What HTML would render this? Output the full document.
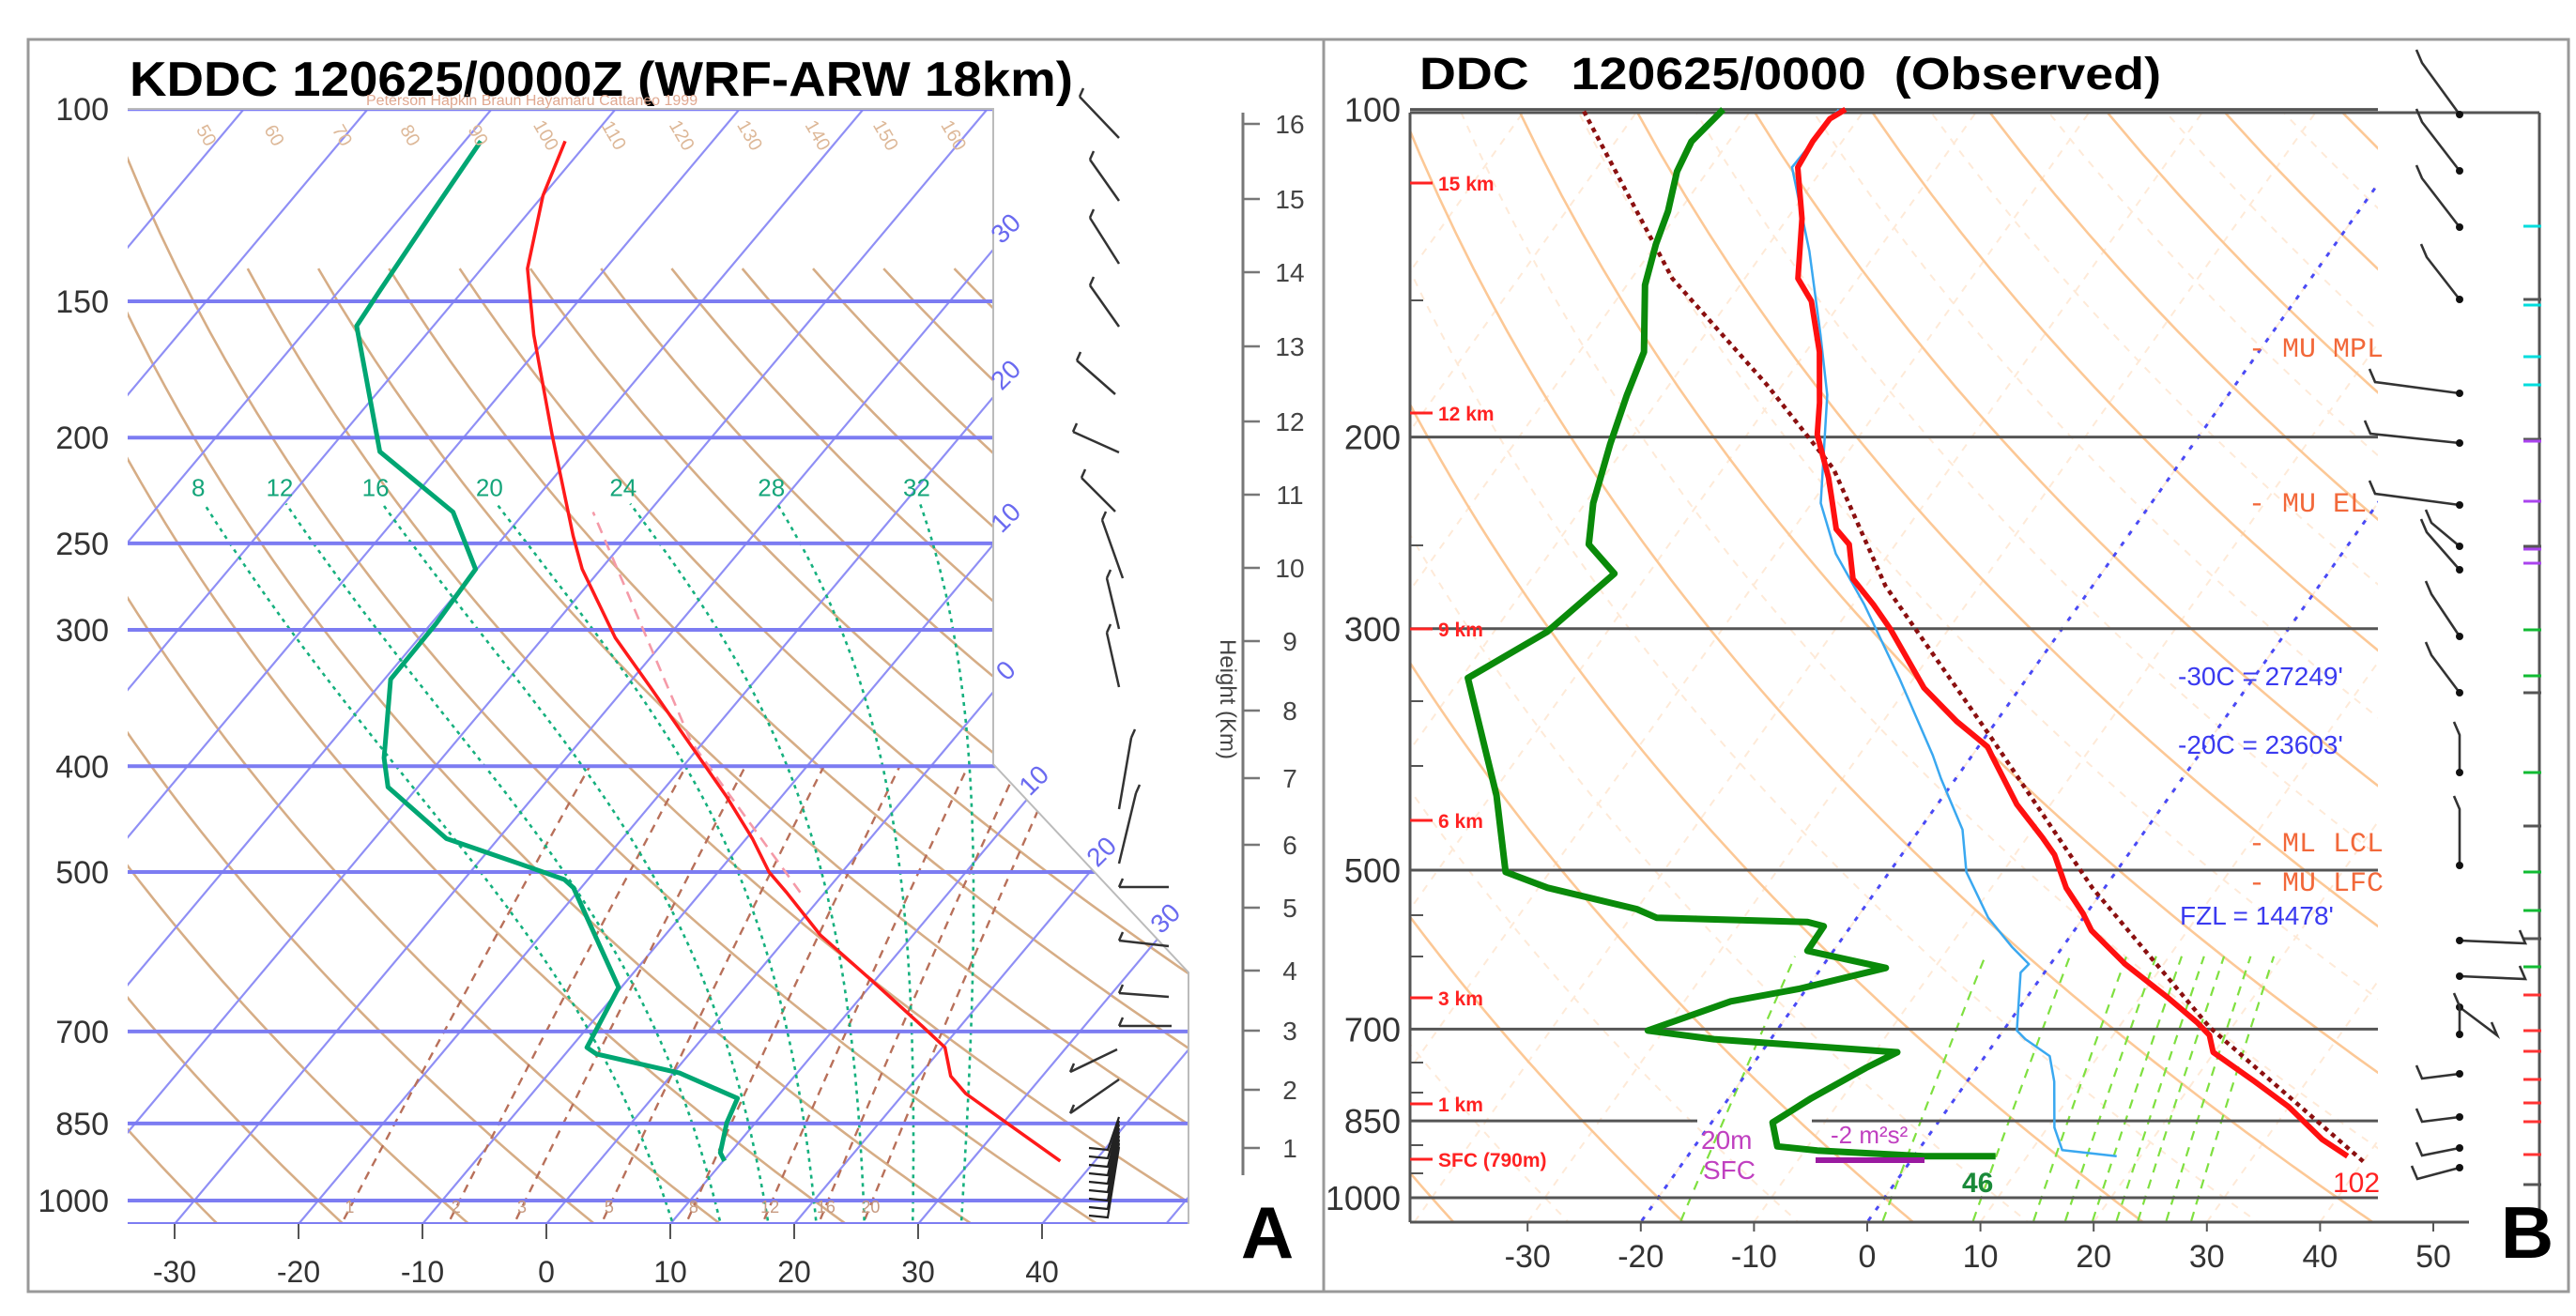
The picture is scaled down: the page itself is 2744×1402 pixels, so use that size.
<!DOCTYPE html>
<html><head><meta charset="utf-8"><title>Skew-T comparison</title>
<style>
html,body{margin:0;padding:0;background:#fff;}
svg{display:block;font-family:"Liberation Sans",sans-serif;}
.pre{white-space:pre;}
</style></head>
<body>
<svg id="chart" xmlns="http://www.w3.org/2000/svg" width="2744" height="1402" viewBox="0 0 2744 1402">
<defs>
<clipPath id="clipA"><polygon points="136,116 1058,116 1058,814 1266,1036 1266,1304 136,1304"/></clipPath>
<clipPath id="clipB"><rect x="1502" y="120" width="1031" height="1182"/></clipPath>
</defs>
<rect x="0" y="0" width="2744" height="1402" fill="#fff"/>
<rect x="30" y="42" width="2706" height="1334" fill="none" stroke="#999" stroke-width="3"/>
<line x1="1410" y1="42" x2="1410" y2="1376" stroke="#999" stroke-width="3"/>
<g id="panelA"></g>
<g id="panelB"></g>
</svg>
<script>
// ---------- DATA: panel A (WRF-ARW model sounding) ----------
const pA_temp = [920,849,798,769,724,693,629,571,522,500,466,426,384,338,305,264,246,199,161,140,120,107];
const tA_temp = [37.2,30.3,25.0,22.6,20.2,17.0,9.8,2.5,-3.1,-5.9,-9.5,-14.5,-20.6,-28.1,-34.2,-41.5,-44.5,-53,-61.3,-66.3,-70,-71.9];
const pA_dew = [920,904,849,806,764,734,724,638,517,508,491,466,418,393,333,296,264,234,206,158,147,124,107];
const tA_dew = [10.1,9.2,7.7,6.9,0.5,-7.5,-8.7,-10.2,-20.6,-21.9,-26.7,-34.2,-42.4,-44.7,-49.5,-49.6,-50.1,-55.8,-65.8,-76.2,-76.7,-77.8,-78.7];
const pA_parcel = [522,380,234];
const tA_parcel = [-2,-21,-44.5];
const pA_labels = [100,150,200,250,300,400,500,700,850,1000];
const tA_ticks = [-30,-20,-10,0,10,20,30,40];
const heightA_km = [1,2,3,4,5,6,7,8,9,10,11,12,13,14,15,16];
const heightA_y = [1223,1161,1098,1034,967,900,829,757,683,605,527,449,369,290,212,132];
const moistA = [8,12,16,20,24,28,32];
const mixA = [1,2,3,5,8,12,16,20];
// ---------- DATA: panel B (observed sounding) ----------
const pB_temp = [916,884,825,782,735,709,690,655,610,568,548,519,484,467,435,392,385,365,340,300,285,270,251,243,226,218,199,186,167,150,143,126,113,107,102,100];
const tB_temp = [38.3,35.0,30.0,25.4,19.9,18.5,16.6,12.5,6.6,1.5,-0.3,-3.4,-6.5,-8.6,-13,-18.3,-19.2,-23.5,-28.5,-35.2,-38.2,-41.6,-44.1,-46.2,-48.8,-50.1,-53.8,-55.6,-58.8,-62.7,-65.3,-68.7,-72.3,-72.6,-72.5,-71.7];
const pB_wet = [916,904,862,782,741,715,702,621,610,588,553,502,459,412,392,333,285,256,230,183,161,135,113,100];
const tB_wet = [17.9,12.7,10.6,7.7,5.7,2.5,1.2,-2.1,-1.9,-4.5,-8.4,-13.2,-16.2,-21.3,-23.5,-31.3,-39,-44.7,-49.2,-55.4,-59.8,-66,-72.8,-72.3];
const pB_dew = [916,916,905,897,853,810,760,735,715,702,660,643,615,593,563,558,553,543,519,502,427,333,302,267,251,230,203,183,167,145,133,124,114,107,100];
const tB_dew = [7.2,0.9,-8.9,-12.7,-14.6,-12.7,-9.8,-8.0,-25,-31.4,-25.9,-20.7,-14.3,-22.3,-22.4,-24.1,-37.7,-40,-49.2,-53.9,-59.5,-69.4,-65.3,-63,-67.1,-69.3,-71.5,-73.1,-74.3,-78.4,-80,-81,-82.7,-83.3,-82.5];
const pB_parcel = [926,697,519,378,274,214,179,143,100];
const tB_parcel = [40,18,-1.1,-19.4,-38.3,-50.2,-61.4,-76.4,-94.9];
const pB_labels = [100,200,300,500,700,850,1000];
const tB_ticks = [-30,-20,-10,0,10,20,30,40,50];
const mixB = [1,4,7,10,12,14,16,18,21,24];
const kmB_labels = ["15 km","12 km","9 km","6 km","3 km","1 km","SFC (790m)"];
const kmB_y = [195,440,670,874,1063,1176,1235];

// ---------- axis functions ----------
function yA(p){return 1279-505*Math.log(1000/p);}
function xA(t,p){return 582+13.2*t+0.84*(1304-yA(p));}
function yB(p){return 1276-503.5*Math.log(1000/p);}
function xB(t,p){return 1989+12.06*t+0.71*(1302-yB(p));}

const NS="http://www.w3.org/2000/svg";
function mk(tag,attrs,parent){const e=document.createElementNS(NS,tag);for(const k in attrs)e.setAttribute(k,attrs[k]);parent.appendChild(e);return e;}
function txt(s,attrs,parent){const e=mk('text',attrs,parent);e.textContent=s;return e;}
function pathFrom(ps,ts,xf,yf){let d='';for(let i=0;i<ps.length;i++){d+=(i?'L':'M')+xf(ts[i],ps[i]).toFixed(1)+','+yf(ps[i]).toFixed(1);}return d;}
function dryT(thetaC,p){return (thetaC+273.15)*Math.pow(p/1000,0.2857)-273.15;}
function es(tc){return 6.112*Math.exp(17.67*tc/(tc+243.5));}
function moistCurve(t0,pStart,pEnd){
  const pts=[];let T=t0+273.15,lp=Math.log(1000);
  const step=0.01;
  let Td=T,lpd=lp;const down=[];
  while(Math.exp(lpd)<pStart){const tc=Td-273.15;const rs=0.622*es(tc)/(Math.exp(lpd)-es(tc));
    const dT=(287*Td+2.5e6*rs)/(1004+2.5e6*2.5e6*rs*0.622/(287*Td*Td));Td+=dT*step;lpd+=step;down.push([Math.exp(lpd),Td-273.15]);}
  down.reverse();for(const d of down)pts.push(d);
  pts.push([1000,t0]);
  while(Math.exp(lp)>pEnd){const tc=T-273.15;const p=Math.exp(lp);const rs=0.622*es(tc)/(p-es(tc));
    const dT=(287*T+2.5e6*rs)/(1004+2.5e6*2.5e6*rs*0.622/(287*T*T));T-=dT*step;lp-=step;pts.push([Math.exp(lp),T-273.15]);}
  return pts;
}
function mixTd(w,p){const e=w*p/(622+w);const l=Math.log(e/6.112);return 243.5*l/(17.67-l);}

// ================= PANEL A =================
const A=document.getElementById('panelA');
const gA=mk('g',{'clip-path':'url(#clipA)'},A);


for(let th=-30;th<=210;th+=10){
  let d='';let first=true;
  for(let p=1060;p>=(th>=50?135:100);p-=10){const x=xA(dryT(th,p),p),y=yA(p);d+=(first?'M':'L')+x.toFixed(1)+','+y.toFixed(1);first=false;}
  const e=mk('path',{d:d,fill:'none',stroke:'#d6ad86','stroke-width':2.6},gA);
  
  
}
for(let t=-130;t<=50;t+=10){
  const e=mk('line',{x1:582+13.2*t,y1:1304,x2:582+13.2*t+0.84*1188,y2:116,stroke:'#8f8ff5','stroke-width':2.2},gA);
  
  
}
mixA.forEach(w=>{
  let d='';for(let p=1040;p>=400;p-=20){d+=(p===1040?'M':'L')+xA(mixTd(w,p),p).toFixed(1)+','+yA(p).toFixed(1);}
  const e=mk('path',{d:d,fill:'none',stroke:'#b8705a','stroke-width':2.4,'stroke-dasharray':'9 7'},gA);
  
  
});
moistA.forEach(t0=>{
  const pts=moistCurve(t0,1060,232);let d='';
  pts.forEach((q,i)=>{d+=(i?'L':'M')+xA(q[1],q[0]).toFixed(1)+','+yA(q[0]).toFixed(1);});
  const e=mk('path',{d:d,fill:'none',stroke:'#15b07e','stroke-width':2.6,'stroke-dasharray':'4 5'},gA);
  
  
});
pA_labels.forEach(p=>{
  const e=mk('line',{x1:136,y1:yA(p),x2:1266,y2:yA(p),stroke:'#7c7cf2','stroke-width':4},gA);
  
  
});
const bl=mk('line',{x1:136,y1:1304,x2:1266,y2:1304,stroke:'#7c7cf2','stroke-width':4},gA);


const bA=mk('polyline',{points:'136,116 1058,116 1058,814 1266,1036 1266,1304',fill:'none',stroke:'#bbb','stroke-width':2},A);


const parA=mk('path',{d:pathFrom(pA_parcel,tA_parcel,xA,yA),fill:'none',stroke:'#f59aa8','stroke-width':2.6,'stroke-dasharray':'12 8'},A);


const dewA=mk('path',{d:pathFrom(pA_dew,tA_dew,xA,yA),fill:'none',stroke:'#00a673','stroke-width':5,'stroke-linejoin':'round'},A);


const tmpA=mk('path',{d:pathFrom(pA_temp,tA_temp,xA,yA),fill:'none',stroke:'#ff1a1a','stroke-width':3.5,'stroke-linejoin':'round'},A);


pA_labels.forEach(p=>{
  const e=txt(String(p),{x:116,y:yA(p)+12,'text-anchor':'end','font-size':34,fill:'#333'},A);
  
  
});
tA_ticks.forEach(t=>{
  const x=582+13.2*t;
  const l=mk('line',{x1:x,y1:1304,x2:x,y2:1320,stroke:'#555','stroke-width':2},A);
  
  
  const e=txt(String(t),{x:x,y:1366,'text-anchor':'middle','font-size':32,fill:'#333'},A);
  
  
});
moistA.forEach(t0=>{
  const pts=moistCurve(t0,1000,226);const q=pts[pts.length-1];
  const e=txt(String(t0),{x:xA(q[1],q[0]),y:yA(q[0])+2,'text-anchor':'middle','font-size':26,fill:'#15a57a'},A);
  
  
});
mixA.forEach(w=>{
  const e=txt(String(w),{x:xA(mixTd(w,1040),1040)+6,y:1292,'text-anchor':'middle','font-size':18,fill:'#c79a80'},A);
  
  
});
for(let th=50;th<=160;th+=10){
  const x=xA(dryT(th,122),122);
  const e=txt(String(th),{x:x-10,y:150,'text-anchor':'middle','font-size':20,fill:'#ddb898',transform:'rotate(60 '+(x-10)+' 145)'},A);
  
  
}
[[-30,250],[-20,406],[-10,558],[0,721]].forEach(a=>{
  const e=txt(String(Math.abs(a[0])),{x:1078,y:a[1],'text-anchor':'middle','font-size':28,fill:'#6a6af0',transform:'rotate(-45 1078 '+a[1]+')'},A);
  
  
});
[[10,1108,838],[20,1180,914],[30,1248,985]].forEach(a=>{
  const e=txt(String(a[0]),{x:a[1],y:a[2],'text-anchor':'middle','font-size':28,fill:'#6a6af0',transform:'rotate(-45 '+a[1]+' '+a[2]+')'},A);
  
  
});
const tiA=txt('KDDC 120625/0000Z (WRF-ARW 18km)',{x:138,y:102,'font-size':52,'font-weight':'bold',fill:'#000',textLength:1005,lengthAdjust:'spacingAndGlyphs'},A);


const sub=txt('Peterson Hapkin Braun Hayamaru Cattaneo 1999',{x:390,y:112,'font-size':16,fill:'#e0a890'},A);


const ha=mk('line',{x1:1324,y1:120,x2:1324,y2:1252,stroke:'#777','stroke-width':3},A);


heightA_km.forEach((k,i)=>{
  const l=mk('line',{x1:1324,y1:heightA_y[i],x2:1342,y2:heightA_y[i],stroke:'#777','stroke-width':2.5},A);
  
  
  const e=txt(String(k),{x:1374,y:heightA_y[i]+10,'text-anchor':'middle','font-size':28,fill:'#444'},A);
  
  
});
const hl=txt('Height (Km)',{x:1300,y:745,'text-anchor':'middle','font-size':24,fill:'#444',transform:'rotate(90 1300 745)'},A);


const barbsA=[[1150,103,1192,147],[1161,170,1192,214],[1161,232,1192,281],[1161,304,1192,348],[1147,384,1188,420],[1143,460,1192,482],[1152,509,1188,545],[1174,554,1196,616],[1179,616,1192,670],[1179,674,1192,732],[1205,786,1192,862],[1210,845,1192,920],[1192,945,1245,945],[1192,1002,1245,1008],[1192,1058,1245,1062],[1192,1093,1248,1093],[1140,1142,1190,1118],[1140,1186,1192,1150]];
barbsA.forEach(b=>{
  const e=mk('path',{d:'M'+b[0]+','+b[1]+'L'+b[2]+','+b[3]+'M'+b[0]+','+b[1]+'l4,-9',fill:'none',stroke:'#333','stroke-width':2.5},A);
  
  
});
for(let i=0;i<9;i++){
  const y=1195+i*9;
  const e=mk('path',{d:'M1192,'+(1190+i*4)+'L1180,'+(y+30)+' l-20,-2',fill:'none',stroke:'#222','stroke-width':2.2},A);
  
  
}
const lblA=txt('A',{x:1350,y:1340,'text-anchor':'middle','font-size':78,'font-weight':'bold',fill:'#000'},A);



// ================= PANEL B =================
const B=document.getElementById('panelB');
const gB=mk('g',{'clip-path':'url(#clipB)'},B);


for(let t=-140;t<=60;t+=10){
  const e=mk('line',{x1:1989+12.06*t,y1:1302,x2:1989+12.06*t+0.71*1182,y2:120,stroke:'#feead8','stroke-width':2,'stroke-dasharray':'8 8'},gB);
  
  
}
for(let th=-40;th<=240;th+=10){
  let d='';let first=true;
  for(let p=1060;p>=98;p-=10){d+=(first?'M':'L')+xB(dryT(th,p),p).toFixed(1)+','+yB(p).toFixed(1);first=false;}
  const solid=(th%20===0);
  const e=mk('path',{d:d,fill:'none',stroke:solid?'#fcc896':'#feead8','stroke-width':solid?2.6:2,'stroke-dasharray':solid?'none':'8 8'},gB);
  
  
}
mixB.forEach(w=>{
  let d='';for(let p=1050;p>=600;p-=25){d+=(p===1050?'M':'L')+xB(mixTd(w,p),p).toFixed(1)+','+yB(p).toFixed(1);}
  const e=mk('path',{d:d,fill:'none',stroke:'#7fe040','stroke-width':2.2,'stroke-dasharray':'10 8'},gB);
  
  
});
[[-20,102],[0,218]].forEach(a=>{
  const e=mk('line',{x1:xB(a[0],1050),y1:yB(1050),x2:xB(a[0],a[1]),y2:yB(a[1]),stroke:'#4a4af5','stroke-width':3,'stroke-dasharray':'5 9'},gB);
  
  
});
pB_labels.forEach(p=>{
  if(p===850){
    const e1=mk('line',{x1:1502,y1:yB(p),x2:1808,y2:yB(p),stroke:'#555','stroke-width':3},B);
    
    
    const e2=mk('line',{x1:1930,y1:yB(p),x2:2533,y2:yB(p),stroke:'#555','stroke-width':3},B);
    
    
  } else {
    const e=mk('line',{x1:1502,y1:yB(p),x2:2533,y2:yB(p),stroke:'#555','stroke-width':3},B);
    
    
  }
});
const axL=mk('line',{x1:1502,y1:120,x2:1502,y2:1302,stroke:'#555','stroke-width':3},B);


const axBt=mk('line',{x1:1502,y1:1302,x2:2630,y2:1302,stroke:'#555','stroke-width':3},B);


const axT=mk('line',{x1:1502,y1:120,x2:2705,y2:120,stroke:'#555','stroke-width':3},B);


const axR=mk('line',{x1:2705,y1:120,x2:2705,y2:1302,stroke:'#555','stroke-width':3},B);


[320,581,747,816,975,1019,1132,1164,1220,1250].forEach(y=>{
  const e=mk('line',{x1:1502,y1:y,x2:1516,y2:y,stroke:'#555','stroke-width':2},B);
  
  
});
const rTicks=[[241,'#0dd'],[319,'#555'],[325,'#0dd'],[380,'#0dd'],[410,'#0dd'],[468,'#555'],[470,'#a4e'],[534,'#a4e'],[582,'#555'],[585,'#a4e'],[600,'#a4e'],[671,'#1b3'],[720,'#1b3'],[738,'#555'],[823,'#1b3'],[880,'#555'],[929,'#1b3'],[970,'#1b3'],[1000,'#555'],[1030,'#1b3'],[1060,'#f33'],[1098,'#f33'],[1120,'#f33'],[1150,'#f33'],[1175,'#f33'],[1195,'#f33'],[1230,'#f33'],[1262,'#555']];
rTicks.forEach(r=>{
  const e=mk('line',{x1:2688,y1:r[0],x2:2707,y2:r[0],stroke:r[1],'stroke-width':3},B);
  
  
});
const parB=mk('path',{d:pathFrom(pB_parcel,tB_parcel,xB,yB),fill:'none',stroke:'#8b1010','stroke-width':4.5,'stroke-dasharray':'5 5'},B);


const wetB=mk('path',{d:pathFrom(pB_wet,tB_wet,xB,yB),fill:'none',stroke:'#3aa8f0','stroke-width':2.5,'stroke-linejoin':'round'},B);


const tmpB=mk('path',{d:pathFrom(pB_temp,tB_temp,xB,yB),fill:'none',stroke:'#ff1010','stroke-width':6,'stroke-linejoin':'round'},B);


const dewB=mk('path',{d:pathFrom(pB_dew,tB_dew,xB,yB),fill:'none',stroke:'#0a8a0a','stroke-width':7,'stroke-linejoin':'round'},B);


const mag=mk('line',{x1:1934,y1:1236,x2:2050,y2:1236,stroke:'#9a1aa0','stroke-width':6},B);


pB_labels.forEach(p=>{
  const e=txt(String(p),{x:1492,y:yB(p)+13,'text-anchor':'end','font-size':36,fill:'#333'},B);
  
  
});
tB_ticks.forEach(t=>{
  const x=1989+12.06*t;
  const l=mk('line',{x1:x,y1:1302,x2:x,y2:1312,stroke:'#555','stroke-width':2},B);
  
  
  const e=txt(String(t),{x:x,y:1350,'text-anchor':'middle','font-size':34,fill:'#333'},B);
  
  
});
kmB_labels.forEach((s,i)=>{
  const l=mk('line',{x1:1502,y1:kmB_y[i],x2:1526,y2:kmB_y[i],stroke:'#f22','stroke-width':3},B);
  
  
  const e=txt(s,{x:1532,y:kmB_y[i]+8,'font-size':21,fill:'#f22','font-weight':'bold'},B);
  
  
});
const tiB=txt('DDC   120625/0000  (Observed)',{x:1512,y:95,'font-size':48,'font-weight':'bold',fill:'#000',textLength:790,lengthAdjust:'spacingAndGlyphs','class':'pre'},B);


const ann=[['- MU MPL',2395,380],['- MU EL',2395,545],['- ML LCL',2395,907],['- MU LFC',2395,949]];
ann.forEach(a=>{
  const e=txt(a[0],{x:a[1],y:a[2],'font-size':30,fill:'#f2683a','font-family':'Liberation Mono, monospace','class':'pre'},B);
  
  
});
const bl2=[["-30C = 27249'",2320,730],["-20C = 23603'",2320,803],["FZL = 14478'",2322,985]];
bl2.forEach(a=>{
  const e=txt(a[0],{x:a[1],y:a[2],'font-size':28,fill:'#3a3af0'},B);
  
  
});
const l102=txt('102',{x:2485,y:1270,'font-size':30,fill:'#f22'},B);


const l46=txt('46',{x:2090,y:1270,'font-size':30,fill:'#1a8a3a','font-weight':'bold'},B);


const l20=txt('20m',{x:1812,y:1224,'font-size':28,fill:'#c040c0'},B);


const lsfc=txt('SFC',{x:1814,y:1256,'font-size':28,fill:'#c040c0'},B);


const lsrh=txt('-2 m²s²',{x:1950,y:1218,'font-size':26,fill:'#c040c0'},B);


const barbsB=[[122,-40,-55],[182,-40,-52],[242,-40,-52],[319,-35,-45],[419,-90,-12],[472,-95,-10],[538,-90,-12],[582,-30,-25],[607,-35,-40],[678,-30,-45],[738,-30,-40],[823,0,-40],[922,0,-60],[1002,70,3],[1040,70,3],[1073,40,30],[1102,0,-30],[1144,-40,5],[1190,-40,5],[1223,-40,8],[1244,-45,12]];
barbsB.forEach(b=>{
  const x=2620,y=b[0];
  const e=mk('path',{d:'M'+x+','+y+'l'+b[1]+','+b[2]+'l-6,-14',fill:'none',stroke:'#333','stroke-width':2.6},B);
  
  
  const c=mk('circle',{cx:x,cy:y,r:4,fill:'#111'},B);
  
  
});
const lblB=txt('B',{x:2692,y:1340,'text-anchor':'middle','font-size':78,'font-weight':'bold',fill:'#000'},B);


</script>
</body></html>
